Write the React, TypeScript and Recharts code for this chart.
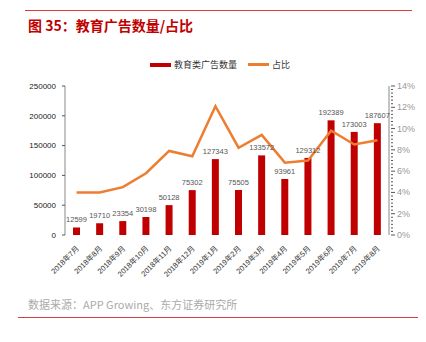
import React from "react";
import {
  ComposedChart,
  Bar,
  Line,
  XAxis,
  YAxis,
  LabelList,
} from "recharts";

const months = [
  "2018年7月", "2018年8月", "2018年9月", "2018年10月", "2018年11月", "2018年12月",
  "2019年1月", "2019年2月", "2019年3月", "2019年4月", "2019年5月", "2019年6月",
  "2019年7月", "2019年8月",
];
const adCount = [
  12599, 19710, 23354, 30198, 50128, 75302, 127343, 75505, 133572, 93961,
  129312, 192389, 173003, 187607,
];
const adShare = [
  4.0, 4.0, 4.5, 5.8, 7.9, 7.4, 12.1, 8.2, 9.4, 6.8, 7.0, 9.8, 8.5, 8.9,
];
const leftTicks = [0, 50000, 100000, 150000, 200000, 250000];
const rightMajor = [0, 2, 4, 6, 8, 10, 12, 14];
// minor marks on the right axis
const rightTicks = Array.from({ length: 43 }, (_, i) => +(i / 3).toFixed(3));

const data = months.map((m, i) => ({ month: m, idx: i, count: adCount[i], share: adShare[i] }));

const FONT = "'Liberation Sans', Arial, 'Noto Sans CJK SC', sans-serif";
const RED = "#C00000";
const ORANGE = "#ED7D31";

const MonthTick = (props: any) => {
  const { x, y, payload } = props;
  return (
    <text
      x={x + 3}
      y={y + 6}
      transform={`rotate(-45, ${x + 3}, ${y + 6})`}
      textAnchor="end"
      fontSize={7.5}
      fill="#333"
      fontFamily={FONT}
    >
      {payload.value}
    </text>
  );
};

const ShareTick = (props: any) => {
  const { x, y, payload } = props;
  const v = payload.value;
  const major = rightMajor.find((t) => Math.abs(t - v) < 0.001);
  return (
    <g>
      <line x1={x - 6} x2={x - (major !== undefined ? 2 : 4)} y1={y} y2={y} stroke="#555" strokeWidth={1} />
      {major !== undefined && (
        <text x={x} y={y + 3} fontSize={9} fill="#999" fontFamily={FONT}>
          {major}%
        </text>
      )}
    </g>
  );
};

export default function App() {
  return (
    <div style={{ position: "absolute", left: 0, top: 0, width: 426, height: 342, background: "#fff", fontFamily: FONT }}>
      <div style={{ position: "absolute", left: 25, top: 10, width: 387, height: 1, background: "#E03A3A" }} />
      <div style={{ position: "absolute", left: 28, top: 15, fontSize: 14, fontWeight: "bold", color: RED, fontFamily: "'Noto Sans CJK SC', sans-serif" }}>
        图 35：教育广告数量/占比
      </div>

      <div style={{ position: "absolute", left: 150, top: 58, display: "flex", alignItems: "center", fontSize: 9, color: "#333", fontFamily: "'Noto Sans CJK SC', sans-serif" }}>
        <span style={{ display: "inline-block", width: 21, height: 4, background: RED, marginRight: 3 }} />
        <span>教育类广告数量</span>
        <span style={{ display: "inline-block", width: 21, height: 3, background: ORANGE, marginLeft: 11, marginRight: 3 }} />
        <span>占比</span>
      </div>

      <div style={{ position: "absolute", left: 0, top: 0 }}>
        <ComposedChart
          width={426}
          height={342}
          data={data}
          margin={{ top: 86, right: 0, bottom: 47, left: 0 }}
          barCategoryGap={0}
        >
          <XAxis
            xAxisId="grid"
            type="number"
            dataKey="idx"
            domain={[-0.5, 13.5]}
            ticks={months.map((_, i) => i - 0.5).concat([13.5])}
            height={0}
            tick={false}
            tickSize={3}
            axisLine={{ stroke: "#888" }}
            tickLine={{ stroke: "#555" }}
          />
          <XAxis
            xAxisId="main"
            dataKey="month"
            height={60}
            interval={0}
            tick={<MonthTick />}
            tickLine={false}
            axisLine={false}
          />
          <YAxis
            yAxisId="left"
            width={65}
            domain={[0, 250000]}
            ticks={leftTicks}
            tickSize={3}
            tickMargin={6}
            tick={{ fontSize: 8, fill: "#222", fontFamily: FONT }}
            axisLine={{ stroke: "#888" }}
            tickLine={{ stroke: "#555" }}
          />
          <YAxis
            yAxisId="right"
            orientation="right"
            width={37}
            domain={[0, 14]}
            ticks={rightTicks}
            interval={0}
            tick={<ShareTick />}
            tickLine={false}
            axisLine={{ stroke: "#888" }}
          />
          <Bar
            xAxisId="main"
            yAxisId="left"
            dataKey="count"
            fill={RED}
            barSize={7}
            isAnimationActive={false}
          >
            <LabelList
              dataKey="count"
              position="top"
              offset={5}
              fontSize={7.5}
              fill="#555"
              fontFamily={FONT}
            />
          </Bar>
          <Line
            xAxisId="main"
            yAxisId="right"
            dataKey="share"
            stroke={ORANGE}
            strokeWidth={2.5}
            dot={false}
            isAnimationActive={false}
          />
        </ComposedChart>
      </div>

      <div style={{ position: "absolute", left: 28, top: 296, fontSize: 11, color: "#AAA", fontFamily: "'Noto Sans CJK SC', sans-serif" }}>
        数据来源：APP Growing、东方证券研究所
      </div>
      <div style={{ position: "absolute", left: 18, top: 317, width: 400, height: 1, background: "#D04040" }} />
    </div>
  );
}
